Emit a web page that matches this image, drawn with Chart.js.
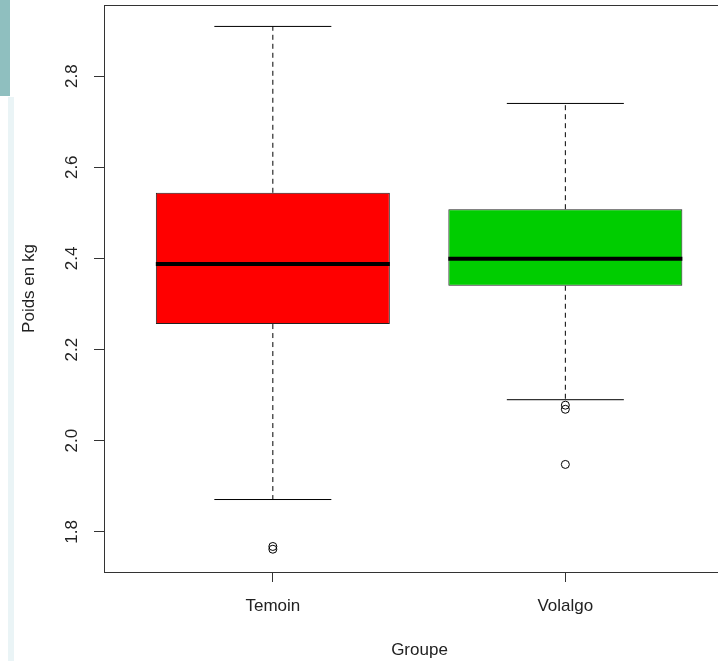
<!DOCTYPE html>
<html lang="fr">
<head>
    <meta charset="UTF-8">
    <title>Poids par groupe</title>
    <script src="https://cdn.jsdelivr.net/npm/chart.js"></script>
    <style>
        body { margin: 0; background: #fff; }
        #wrap { position: relative; width: 718px; height: 661px; overflow: hidden; }
        .bande1 { position: absolute; left: 0; top: 0; width: 10px; height: 96px; background: #8fbfbf; }
        .bande2 { position: absolute; left: 8px; top: 97px; width: 6px; height: 564px; background: #eaf4f6; }
        canvas { position: absolute; left: 0; top: 0; }
    </style>
</head>
<body>
<div id="wrap">
    <div class="bande1"></div>
    <div class="bande2"></div>
    <canvas id="boxChart" width="740" height="661" style="width:740px;height:661px"></canvas>
</div>

<script>
    // Données (boxplot R)
    var groupes  = ['Temoin', 'Volalgo'];
    var couleurs = ['#ff0000', '#00cd00'];
    var minimum  = [1.871, 2.090];
    var q1       = [2.256, 2.340];
    var mediane  = [2.388, 2.399];
    var q3       = [2.544, 2.508];
    var maximum  = [2.909, 2.740];
    var atypiques = [[1.768, 1.762], [2.078, 2.069, 1.948]];
    var yTicks = [1.8, 2.0, 2.2, 2.4, 2.6, 2.8];

    var police = "'Liberation Sans', Arial, sans-serif";
    var datasets = [];

    // boîtes (barres flottantes q1 -> q3)
    datasets.push({
        type: 'bar',
        data: groupes.map(function (g, i) { return { x: i + 1, y: [q1[i], q3[i]] }; }),
        backgroundColor: couleurs,
        borderColor: '#222',
        borderWidth: 1,
        borderSkipped: false,
        barPercentage: 0.8,
        categoryPercentage: 1,
        order: 2
    });

    function segment(x1, y1, x2, y2, largeur, tirets, ordre) {
        return {
            type: 'line',
            data: [{ x: x1, y: y1 }, { x: x2, y: y2 }],
            borderColor: '#000',
            borderWidth: largeur,
            borderDash: tirets,
            pointRadius: 0,
            fill: false,
            order: ordre
        };
    }

    groupes.forEach(function (g, i) {
        var x = i + 1;
        // moustaches en pointillés
        datasets.push(segment(x, q3[i], x, maximum[i], 1, [5, 4], 3));
        datasets.push(segment(x, q1[i], x, minimum[i], 1, [5, 4], 3));
        // extrémités
        datasets.push(segment(x - 0.2, maximum[i], x + 0.2, maximum[i], 1, [], 3));
        datasets.push(segment(x - 0.2, minimum[i], x + 0.2, minimum[i], 1, [], 3));
        // médiane
        datasets.push(segment(x - 0.4, mediane[i], x + 0.4, mediane[i], 4, [], 0));
        // valeurs atypiques
        datasets.push({
            type: 'line',
            showLine: false,
            data: atypiques[i].map(function (v) { return { x: x, y: v }; }),
            pointRadius: 4,
            pointBackgroundColor: 'rgba(0,0,0,0)',
            pointBorderColor: '#000',
            pointBorderWidth: 1,
            order: 1
        });
    });

    var ctx = document.getElementById('boxChart').getContext('2d');
    var chart = new Chart(ctx, {
        type: 'bar',
        data: { datasets: datasets },
        options: {
            responsive: false,
            animation: false,
            layout: { padding: { top: 5, right: 3, left: 0, bottom: 0 } },
            plugins: { legend: { display: false }, tooltip: { enabled: false } },
            scales: {
                x: {
                    type: 'linear',
                    offset: false,
                    min: 0.4228,
                    max: 2.58,
                    afterBuildTicks: function (s) { s.ticks = groupes.map(function (g, i) { return { value: i + 1 }; }); },
                    afterFit: function (s) { s.height = 89; s.paddingLeft = 0; s.paddingRight = 0; },
                    ticks: {
                        callback: function (v) { return groupes[v - 1]; },
                        maxRotation: 0,
                        padding: 14,
                        color: '#222',
                        font: { family: police, size: 17 }
                    },
                    grid: { offset: false, drawOnChartArea: false, tickLength: 10, color: '#333' },
                    border: { display: true, color: '#333' },
                    title: {
                        display: true,
                        text: 'Groupe',
                        color: '#222',
                        font: { family: police, size: 17 },
                        padding: { top: 0, bottom: 0 }
                    }
                },
                // axe vide en haut : sert seulement de bord supérieur du cadre
                xHaut: {
                    type: 'linear',
                    position: 'top',
                    offset: false,
                    min: 0.4228,
                    max: 2.58,
                    afterFit: function (s) { s.height = 0; s.paddingLeft = 0; s.paddingRight = 0; },
                    ticks: { display: false },
                    grid: { display: false, drawTicks: false },
                    border: { display: true, color: '#333' }
                },
                y: {
                    type: 'linear',
                    min: 1.712,
                    max: 2.956,
                    afterBuildTicks: function (s) { s.ticks = yTicks.map(function (v) { return { value: v }; }); },
                    afterFit: function (s) { s.width = 104; s.paddingTop = 0; s.paddingBottom = 0; },
                    ticks: {
                        autoSkip: false,
                        callback: function (v) { return v.toFixed(1); },
                        minRotation: 90,
                        maxRotation: 90,
                        crossAlign: 'center',
                        padding: 10,
                        color: '#222',
                        font: { family: police, size: 17 }
                    },
                    grid: { drawOnChartArea: false, tickLength: 10, color: '#333' },
                    border: { display: true, color: '#333' },
                    title: {
                        display: true,
                        text: 'Poids en kg',
                        color: '#222',
                        font: { family: police, size: 17 },
                        padding: { top: 19, bottom: 0 }
                    }
                }
            }
        }
    });
</script>
</body>
</html>
